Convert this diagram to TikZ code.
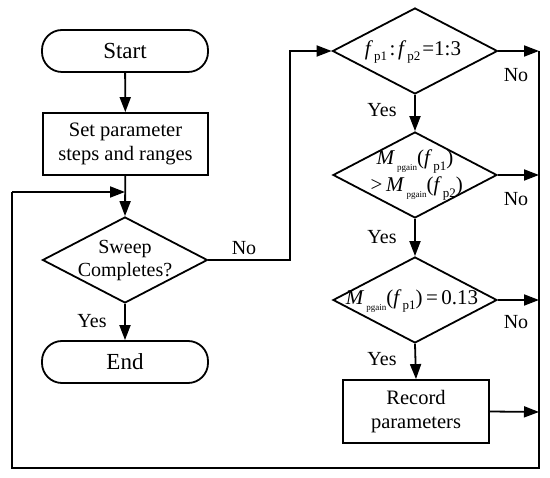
\documentclass[tikz,border=0pt]{standalone}
\usepackage{fontspec}
\setmainfont{Liberation Serif}
\usetikzlibrary{shapes.geometric,arrows.meta}
\newcommand{\fsub}[1]{\textit{f}\kern1pt\raisebox{-0.28em}{\fontsize{13}{13}\selectfont p#1}}
\newcommand{\Mpg}{\textit{M}\kern2pt\raisebox{-0.3em}{\fontsize{9}{9}\selectfont pgain}}
\begin{document}
\begin{tikzpicture}[x=1pt,y=-1pt,
  every node/.style={font=\fontsize{20}{23}\selectfont},
  ln/.style={line width=1.8pt},
  arr/.style={ln,-{Triangle[length=15pt,width=11pt]}},
  term/.style={draw,ln,rectangle,rounded corners=20pt,minimum width=166pt,minimum height=42pt,inner sep=0pt,font=\fontsize{23}{26}\selectfont},
  proc/.style={draw,ln,rectangle,inner sep=0pt,align=center,font=\fontsize{20.5}{24}\selectfont},
  dia/.style={draw,ln,diamond,inner sep=0pt,minimum width=165pt,minimum height=86pt},
  txt/.style={inner sep=0pt,align=center,font=\fontsize{21}{25}\selectfont},
  lab/.style={inner sep=0pt}]
\useasboundingbox (0,0) rectangle (550,478);
% left column
\node[term] (start) at (125,51) {Start};
\node[proc,minimum width=165pt,minimum height=62pt] (set) at (125.5,144) {Set parameter\\steps and ranges};
\node[dia] (sweep) at (125,260) {};
\node[txt,font=\fontsize{20}{23}\selectfont] (sweept) at (125,261) {Sweep\\Completes?};
\node[term] (end) at (125,362) {End};
% right column
\node[dia] (d1) at (415,51) {};
\node[txt] (d1t) at (413,52) {\fsub{1}\kern2.5pt:\kern2.5pt\fsub{2}\kern2pt=1:3};
\node[dia,minimum width=164pt] (d2) at (415,175) {};
\node[txt] (d2t) at (415,175) {\Mpg(\fsub{1})\\[2pt]\,>\,\Mpg(\fsub{2})};
\node[dia,minimum width=164pt] (d3) at (415,300) {};
\node[txt] (d3t) at (412,301) {\Mpg(\fsub{1})\,=\,0.13};
\node[proc,minimum width=146pt,minimum height=63pt] (rec) at (416,411.5) {Record\\parameters};
% coordinates
\coordinate (j) at (125,192);
\coordinate (r1) at (539,51);
\coordinate (r2) at (539,175);
\coordinate (r3) at (539,300);
\coordinate (r4) at (539,412);
\coordinate (br) at (539,468);
\coordinate (bl) at (12,468);
\coordinate (tl) at (12,192);
\coordinate (n1) at (290,260);
\coordinate (n2) at (290,51);
% connectors
\draw[arr] (start) -- (set);
\draw[arr] (set) -- (sweep.north);
\draw[arr] (sweep.south) -- (end.north);
\draw[arr] (sweep.east) -- (n1) -- (n2) -- (d1.west);
\draw[arr] (d1.south) -- (d2.north);
\draw[arr] (d2.south) -- (d3.north);
\draw[arr] (d3.south) -- (rec.north);
\draw[arr] (d1.east) -- (r1);
\draw[arr] (d2.east) -- (r2);
\draw[arr] (d3.east) -- (r3);
\draw[arr] (rec.east) -- (r4);
\draw[ln] (r1) -- (br) -- (bl) -- (tl);
\draw[arr] (tl) -- (j);
% labels
\node[lab] (y0) at (92,321) {Yes};
\node[lab] (n0) at (244,248) {No};
\node[lab] (y1) at (382,110) {Yes};
\node[lab] (y2) at (382,237) {Yes};
\node[lab] (y3) at (382,359) {Yes};
\node[lab] (no1) at (516,75) {No};
\node[lab] (no2) at (516,199) {No};
\node[lab] (no3) at (516,322) {No};
\end{tikzpicture}
\end{document}
